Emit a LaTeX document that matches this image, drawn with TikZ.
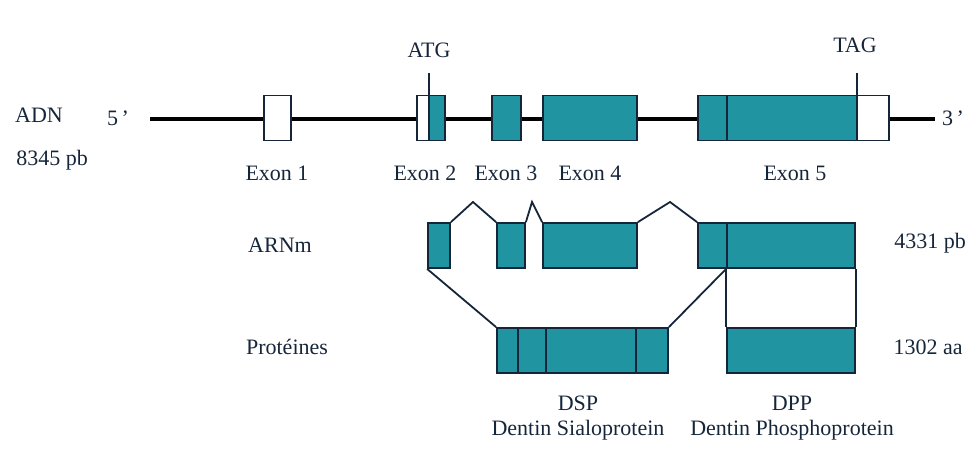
\documentclass[tikz,border=0pt]{standalone}
\usepackage{fontspec}
\setmainfont{Liberation Serif}
\usepackage{xcolor}
\usepackage{tikz}
\usetikzlibrary{positioning}
\definecolor{exonteal}{RGB}{33,148,162}
\definecolor{inkblue}{RGB}{22,38,58}

\begin{document}
\begin{tikzpicture}[x=0.5pt, y=-0.5pt, font=\fontsize{11}{13}\selectfont, text=inkblue,
  coding/.style={draw=inkblue, line width=0.9pt, rectangle, fill=exonteal, inner sep=0pt, minimum height=22.5pt},
  utr/.style={draw=inkblue, line width=0.9pt, rectangle, fill=white, inner sep=0pt, minimum height=22.5pt},
  link/.style={draw=inkblue, line width=0.9pt}]
\useasboundingbox (0,0) rectangle (978,454);

% ADN
\node (adn) at (39,115) {ADN};
\node (adnlen) at (52,160) {8345 pb};
\node (five) at (118,118) {5\,’};
\node (three) at (953,118) {3\,’};
\coordinate (dnastart) at (150,119);
\coordinate (dnaend) at (935,119);
\draw[line width=2.4pt, black] (dnastart) -- (dnaend);

\node[utr, minimum width=13.5pt] (ex1) at (277.5,118) {};
\node[utr, minimum width=6pt] (ex2a) at (423,118) {};
\node[coding, minimum width=8pt] (ex2b) at (437,118) {};
\node[coding, minimum width=14.5pt] (ex3) at (506.5,118) {};
\node[coding, minimum width=47pt] (ex4) at (590,118) {};
\node[coding, minimum width=14.5pt] (ex5a) at (712.5,118) {};
\node[coding, minimum width=65pt] (ex5b) at (792,118) {};
\node[utr, minimum width=16pt] (ex5c) at (873,118) {};

\node (atg) at (429,50) {ATG};
\node (tag) at (855,45) {TAG};
\coordinate (atgtick) at (429,73);
\coordinate (tagtick) at (857,73);
\draw[link] (atgtick) -- (atgtick |- ex2b.north);
\draw[link] (tagtick) -- (tagtick |- ex5c.north);

\node (lab1) at (277,173) {Exon 1};
\node (lab2) at (425,173) {Exon 2};
\node (lab3) at (506,173) {Exon 3};
\node (lab4) at (590,173) {Exon 4};
\node (lab5) at (795,173) {Exon 5};

% ARNm
\node (arn) at (280,245) {ARNm};
\node (arnlen) at (930,243) {4331 pb};
\node[coding, minimum width=11pt] (m2) at (439,245.5) {};
\node[coding, minimum width=14pt] (m3) at (511,245.5) {};
\node[coding, minimum width=47pt] (m4) at (590,245.5) {};
\node[coding, minimum width=14.5pt] (m5a) at (712.5,245.5) {};
\node[coding, minimum width=64pt] (m5b) at (791,245.5) {};

\coordinate (splice23) at (473,202);
\coordinate (splice34) at (532,202);
\coordinate (splice45) at (670,202);
\draw[link] (m2.north east) -- (splice23) -- (m3.north west);
\draw[link] (m3.north east) -- (splice34) -- (m4.north west);
\draw[link] (m4.north east) -- (splice45) -- (m5a.north west);

% Proteines
\node (prot) at (287,347) {Protéines};
\node (protlen) at (928,347) {1302 aa};
\node[coding, minimum width=10.5pt] (p1) at (507.5,350.5) {};
\node[coding, minimum width=14pt] (p2) at (532,350.5) {};
\node[coding, minimum width=45pt] (p3) at (591,350.5) {};
\node[coding, minimum width=16pt] (p4) at (652,350.5) {};
\node[coding, minimum width=64pt] (dpp) at (791,350.5) {};

\draw[link] (m2.south west) -- (p1.north west);
\draw[link] (p4.north east) -- (m5b.south west);
\draw[link] (m5b.south west) -- (dpp.north west);
\draw[link] (m5b.south east) -- (dpp.north east);

\node (dsplab) at (578,403) {DSP};
\node (dspname) at (578,430) {Dentin Sialoprotein};
\node (dpplab) at (792,403) {DPP};
\node (dppname) at (792,430) {Dentin Phosphoprotein};
\end{tikzpicture}
\end{document}
